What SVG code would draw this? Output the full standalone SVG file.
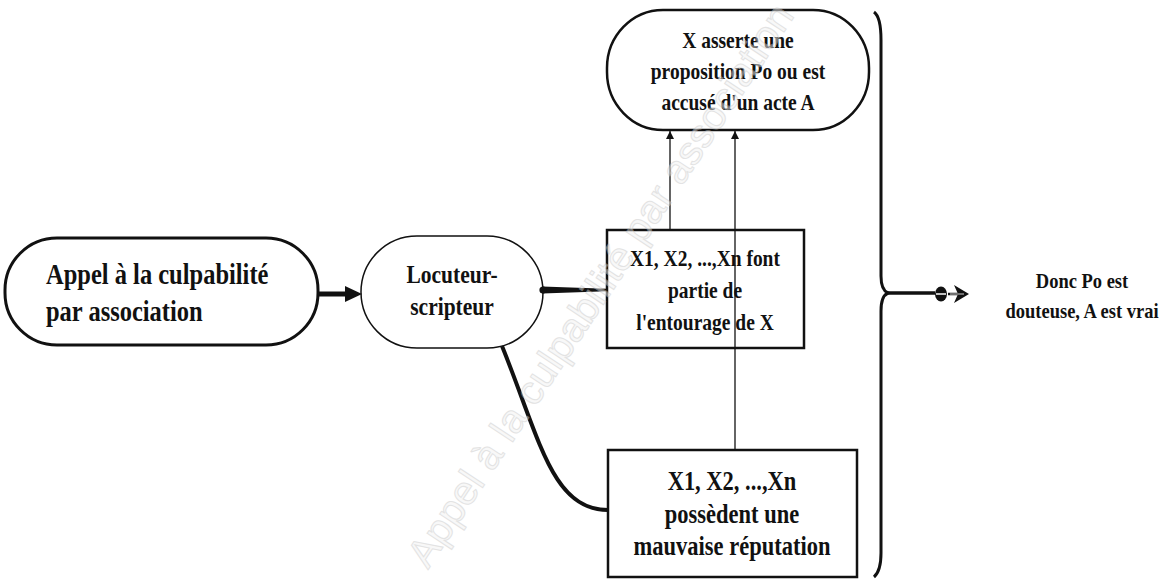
<svg xmlns="http://www.w3.org/2000/svg" width="1166" height="580" viewBox="0 0 1166 580">
<defs>
<style>
.t{font-family:"Liberation Serif","Times New Roman",serif;font-weight:bold;fill:#111;text-anchor:middle}
.s{text-anchor:start}
.box{fill:#fff;stroke:#111}
.thin{fill:none;stroke:#111;stroke-width:1.3}
</style>
<marker id="ah" viewBox="0 0 10 10" refX="10" refY="5" markerWidth="8" markerHeight="8" markerUnits="userSpaceOnUse" orient="auto">
<path d="M0,0 L10,5 L0,10 Z" fill="#111"/>
</marker>
</defs>
<rect width="1166" height="580" fill="#fff"/>

<g id="node-appel">
<rect class="box" x="5" y="238" width="313" height="107" rx="52" ry="52" stroke-width="3"/>
<text class="t s" transform="translate(46,284) scale(1,1.22)" font-size="24.5">Appel à la culpabilité</text>
<text class="t s" transform="translate(46,321) scale(1,1.22)" font-size="24.5">par association</text>
</g>

<g id="node-locuteur">
<rect class="box" x="361" y="236" width="182" height="112" rx="56" ry="56" stroke-width="1.5"/>
<text class="t" transform="translate(452,283) scale(1,1.2)" font-size="21.5">Locuteur-</text>
<text class="t" transform="translate(452,315) scale(1,1.2)" font-size="21.5">scripteur</text>
</g>

<g id="node-assertion">
<rect class="box" x="607" y="10" width="262" height="120" rx="56" ry="58" stroke-width="2.5"/>
<text class="t" transform="translate(738,48) scale(1,1.2)" font-size="19.5">X asserte une</text>
<text class="t" transform="translate(738,79) scale(1,1.2)" font-size="19.5">proposition Po ou est</text>
<text class="t" transform="translate(738,110) scale(1,1.2)" font-size="19.5">accusé d'un acte A</text>
</g>

<g id="node-entourage">
<rect class="box" x="607" y="230" width="197" height="118" stroke-width="2.5"/>
<text class="t" transform="translate(705,266) scale(1,1.2)" font-size="19.5">X1, X2, ...,Xn font</text>
<text class="t" transform="translate(705,298) scale(1,1.2)" font-size="19.5">partie de</text>
<text class="t" transform="translate(705,330) scale(1,1.2)" font-size="19.5">l'entourage de X</text>
</g>

<g id="node-reputation">
<rect class="box" x="608" y="450" width="249" height="127" stroke-width="2.5"/>
<text class="t" transform="translate(732,490) scale(1,1.2)" font-size="22.5">X1, X2, ...,Xn</text>
<text class="t" transform="translate(732,523) scale(1,1.2)" font-size="22.5">possèdent une</text>
<text class="t" transform="translate(732,555) scale(1,1.2)" font-size="22.5">mauvaise réputation</text>
</g>

<g id="node-conclusion">
<text class="t" transform="translate(1082,288) scale(1,1.15)" font-size="18.5">Donc Po est</text>
<text class="t" transform="translate(1082,318) scale(1,1.15)" font-size="18.5">douteuse, A est vrai</text>
</g>

<g id="connectors">
<line x1="318" y1="294" x2="348" y2="294" stroke="#111" stroke-width="5"/>
<path d="M345,286 L362,294 L345,302 Z" fill="#111"/>
<path d="M542,286.5 L607,288.8 L607,291.2 L542,293.5 Z" fill="#111"/>
<circle cx="543" cy="290" r="3.6" fill="#111"/>
<path d="M502,346 C540,440 552,510 608,510" fill="none" stroke="#111" stroke-width="4"/>
<line class="thin" x1="670" y1="230" x2="670" y2="131" marker-end="url(#ah)"/>
<line class="thin" x1="735" y1="450" x2="735" y2="131" marker-end="url(#ah)"/>
<path d="M874,12 Q881,17 881,40 L881,276 Q881,290 888,293 Q881,296 881,311 L881,553 Q881,571 874,577" fill="none" stroke="#111" stroke-width="3"/>
<line x1="886" y1="293" x2="935" y2="293" stroke="#111" stroke-width="3.5"/>
<ellipse cx="941" cy="294" rx="6" ry="7.5" fill="#111"/>
<line x1="936" y1="294" x2="946" y2="294" stroke="#fff" stroke-width="1.5"/>
<line x1="948" y1="294" x2="962" y2="294" stroke="#111" stroke-width="2.5"/>
<path d="M954,285 L969,294 L954,303 L958,294 Z" fill="#111"/>
<line x1="950" y1="294" x2="964" y2="294" stroke="#fff" stroke-width="0.8"/>
</g>

<g id="watermark" opacity="0.5">
<text x="0" y="0" transform="translate(428,570) rotate(-56.5)" font-family="Liberation Sans, Arial, sans-serif" font-size="40" fill="#f2f2f2" stroke="#c8c8c8" stroke-width="1" textLength="665" lengthAdjust="spacingAndGlyphs">Appel à la culpabilité par association</text>
</g>
</svg>
